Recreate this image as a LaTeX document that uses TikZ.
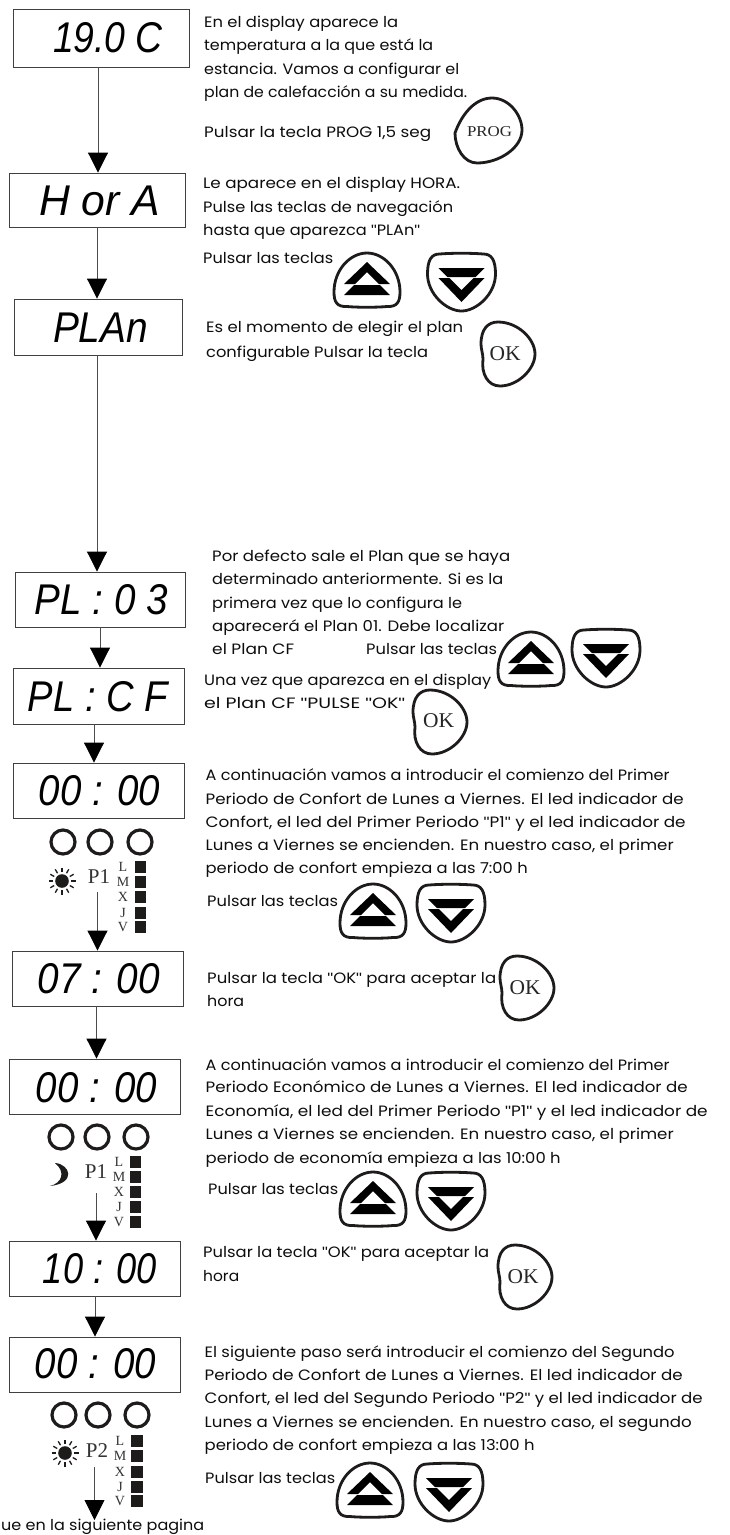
\documentclass[tikz,border=0pt]{standalone}
\usepackage{fontspec}
\usepackage{graphicx}
\usetikzlibrary{arrows.meta}
\setmainfont{Poppins}
\newfontfamily\dispfont{Liberation Sans}
\newfontfamily\btnfont{Liberation Serif}
\newcommand\qq{{\dispfont"}}
\definecolor{ink}{HTML}{1E1B1B}
\tikzset{
  txt/.style={anchor=base west,inner sep=0pt,text=black!95,font=\fontsize{15}{17}\selectfont},
  dispbox/.style={draw=black!75,line width=0.9pt,inner sep=0pt,font=\dispfont\itshape\fontsize{43}{45}\selectfont},
  flow/.style={draw=black!70,line width=0.9pt,-{Triangle[length=20pt,width=20pt,fill=black,color=black]}},
  btn/.style={draw=ink,line width=2.8pt,line join=round},
  glyph/.style={fill=black,draw=none},
  led/.style={circle,draw=ink,line width=3.2pt,minimum size=24pt,inner sep=0pt},
  day/.style={inner sep=0pt,text=black!80,font=\btnfont\fontsize{14}{15}\selectfont},
  sq/.style={fill=ink,draw=none,inner sep=0pt,minimum size=11.5pt},
  per/.style={inner sep=0pt,text=black!80,font=\btnfont\fontsize{21}{23}\selectfont},
  btntext/.style={inner sep=0pt,text=black!85,font=\btnfont\fontsize{21}{23}\selectfont},
  upbtn/.pic={
    \draw[btn] (-20,26.5) .. controls (-30,27) and (-33,22) .. (-33,12) .. controls (-33,-10) and (-17,-27) .. (0,-27) .. controls (17,-27) and (33,-10) .. (33,12) .. controls (33,22) and (30,27) .. (20,26.5) .. controls (10,27.5) and (-10,27.5) .. (-20,26.5) -- cycle;
    \fill[glyph] (0,-18) -- (23,4) -- (12,4) -- (0,-8) -- (-12,4) -- (-23,4) -- cycle;
    \fill[glyph] (-13,5) -- (13,5) -- (23,15) -- (-23,15) -- cycle;
  },
  downbtn/.pic={
    \draw[btn] (-22,-28) .. controls (-30,-28) and (-34,-22) .. (-34,-8) .. controls (-34,12) and (-15,29) .. (0,29) .. controls (15,29) and (34,12) .. (34,-8) .. controls (34,-22) and (30,-28) .. (22,-28) .. controls (10,-29) and (-10,-29) .. (-22,-28) -- cycle;
    \fill[glyph] (-23,-14) -- (23,-14) -- (14,-5) -- (-14,-5) -- cycle;
    \fill[glyph] (-23,-4) -- (-12,-4) -- (0,8) -- (12,-4) -- (23,-4) -- (0,20) -- cycle;
  },
  okbtn/.pic={
    \draw[btn] (-27,-10) .. controls (-27,-25) and (-20,-32) .. (-10,-32) .. controls (10,-32) and (27,-15) .. (27,0) .. controls (27,15) and (10,32) .. (-8,32) .. controls (-20,32) and (-27,20) .. (-25,5) .. controls (-25,0) and (-27,-5) .. (-27,-10) -- cycle;
  },
  progbtn/.pic={
    \draw[btn] (-34,3) .. controls (-28,-14) and (-15,-32) .. (3,-32) .. controls (20,-32) and (33,-15) .. (33,0) .. controls (33,18) and (10,33) .. (-12,33) .. controls (-25,33) and (-34,18) .. (-34,3) -- cycle;
  },
  sunicon/.pic={
    \fill[ink] (0,0) circle (6.8);
    \foreach \a in {0,30,...,330} {\draw[ink,line width=1.3pt] (\a:9) -- (\a:13.5);}
  },
  moonicon/.pic={
    \fill[ink] (-7,-12) .. controls (8,-11) and (15,8) .. (-12,11) .. controls (0,8) and (4,-3) .. (-7,-12) -- cycle;
  }
}
\newcounter{ln}
\newcommand\tx[4]{\stepcounter{ln}\node[txt] (t\arabic{ln}) at (#1,#2) {\resizebox{#3pt}{\height}{#4}};}
% name, x1,y1,x2,y2, text x1, text x2, baseline, text
\newcommand\disp[9]{%
  \pgfmathsetmacro\dCX{(#2+#4)/2}\pgfmathsetmacro\dCY{(#3+#5)/2}%
  \pgfmathsetmacro\dBW{#4-#2}\pgfmathsetmacro\dBH{#5-#3}%
  \pgfmathsetmacro\dTW{#7-#6}\pgfmathsetmacro\dDX{#6+#7-#2-#4}%
  \pgfmathsetmacro\dRB{(#3+#5)/2-#8}%
  \node[dispbox,minimum width=\dBW pt,minimum height=\dBH pt] (#1) at (\dCX,\dCY)
    {\raisebox{\dRB pt}[0pt][0pt]{\makebox[0pt]{\hspace*{\dDX pt}\resizebox{\dTW pt}{\height}{#9}}}};}
% prefix, x of 3 leds, y leds, letters x, squares x, 5 ys given as list
\newcommand\leds[6]{%
  \foreach \i/\xx in {1/#2,2/#3,3/#4} {\node[led] (#1l\i) at (\xx,#5) {};}
  \foreach \i/\yy/\lt in {#6} {\node[day] (#1d\i) at (\dayx,\yy) {\lt};\node[sq] (#1s\i) at (\sqx,\yy) {};}}

\begin{document}
\begin{tikzpicture}[x=1pt,y=-1pt]
\useasboundingbox (0,0) rectangle (730,1535);
\fill[white] (0,0) rectangle (730,1535);

% display boxes
\disp{b1}{13}{9}{189}{67}{53}{163}{52}{19.0 C}
\disp{b2}{9}{173}{185}{227}{39}{160}{215}{H or A}
\disp{b3}{14}{299}{182}{355}{53}{148}{342}{PLAn}
\disp{b4}{15}{572}{185}{627}{35}{168}{614}{PL : 0 3}
\disp{b5}{13}{668}{184}{724}{28}{168}{711}{PL : C F}
\disp{b6}{13}{763}{184}{818}{39}{160}{805}{00 : 00}
\disp{b7}{12}{951}{183}{1006}{38}{160}{993}{07 : 00}
\disp{b8}{9}{1059}{180}{1114}{36}{157}{1102}{00 : 00}
\disp{b9}{9}{1241}{180}{1296}{43}{157}{1283}{10 : 00}
\disp{b10}{9}{1337}{180}{1392}{35}{156}{1378}{00 : 00}

% connectors
\draw[flow] ([xshift=-3pt]b1.south) -- ([xshift=1pt]b2.north);
\draw[flow] (b2.south) -- (b3.north -| b2.south);
\draw[flow] ([xshift=-1pt]b3.south) -- ([xshift=-3pt]b4.north);
\draw[flow] (b4.south) -- (b5.north -| b4.south);
\draw[flow] ([xshift=-4.5pt]b5.south) -- ([xshift=-4.5pt]b6.north);
\draw[flow] ([xshift=-1pt]b7.south) -- ([xshift=2pt]b8.north);
\draw[flow] ([xshift=.5pt]b9.south) -- ([xshift=.5pt]b10.north);
\coordinate (c1) at (97.5,892);
\draw[flow] (c1) -- (c1 |- b7.north);
\coordinate (c2) at (96,1193);
\draw[flow] (c2) -- (c2 |- b9.north);
\coordinate (c3) at (94.5,1467);
\coordinate (c3e) at (94.5,1520);
\draw[flow] (c3) -- (c3e);

% indicators 1
\def\dayx{123}\def\sqx{140.5}
\leds{a}{63}{100}{140}{842}{1/867/L,2/882/M,3/897/X,4/913/J,5/927/V}
\pic at (62,881) {sunicon};
\node[per] (p1a) at (99,877) {P1};
% indicators 2
\def\dayx{119}\def\sqx{135.5}
\leds{e}{61}{97}{136}{1137}{1/1162/L,2/1177/M,3/1192/X,4/1207/J,5/1222/V}
\pic at (62,1175) {moonicon};
\node[per] (p1e) at (96,1172) {P1};
% indicators 3
\def\dayx{120}\def\sqx{137}
\leds{c}{64}{98}{137}{1415}{1/1441/L,2/1456/M,3/1472/X,4/1487/J,5/1501/V}
\pic at (65,1453) {sunicon};
\node[per] (p2c) at (97,1451) {P2};

% buttons
\pic at (489,130) {progbtn};
\node[btntext] (prog) at (489.5,132) {\resizebox{45pt}{\height}{\fontsize{15}{16}\selectfont PROG}};
\pic at (367,280) {upbtn};   \pic at (461.5,282) {downbtn};
\pic at (531,659) {upbtn};   \pic at (606,658) {downbtn};
\pic at (373,911) {upbtn};   \pic at (451,913) {downbtn};
\pic at (373,1199) {upbtn};  \pic at (451,1201) {downbtn};
\pic at (370,1490) {upbtn};  \pic at (449,1492) {downbtn};
\pic at (508,354) {okbtn};
\node[btntext] (ok1) at (505,354) {\resizebox{31pt}{\height}{OK}};
\pic at (440,722) {okbtn};
\node[btntext] (ok2) at (438.5,721) {\resizebox{31pt}{\height}{OK}};
\pic at (527,988) {okbtn};
\node[btntext] (ok3) at (525,988) {\resizebox{31pt}{\height}{OK}};
\pic at (525,1277) {okbtn};
\node[btntext] (ok4) at (523,1277) {\resizebox{31pt}{\height}{OK}};

% texts
\tx{204}{27}{194}{En el display aparece la}
\tx{204}{50}{229}{temperatura a la que está la}
\tx{204}{74}{255}{estancia. Vamos a configurar el}
\tx{204}{97}{263}{plan de calefacción a su medida.}
\tx{204}{137}{227}{Pulsar la tecla PROG 1,5 seg}
\tx{203}{188}{257}{Le aparece en el display HORA.}
\tx{203}{212}{250}{Pulse las teclas de navegación}
\tx{203}{235}{217}{hasta que aparezca \qq PLAn\qq}
\tx{203}{263}{130}{Pulsar las teclas}
\tx{206}{332}{257}{Es el momento de elegir el plan}
\tx{206}{357}{222}{configurable Pulsar la tecla}
\tx{212}{561}{298}{Por defecto sale el Plan que se haya}
\tx{212}{584}{291}{determinado anteriormente. Si es la}
\tx{212}{608}{250}{primera vez que lo configura le}
\tx{212}{631}{292}{aparecerá el Plan 01. Debe localizar}
\tx{212}{654}{82}{el Plan CF}
\tx{366}{654}{131}{Pulsar las teclas}
\tx{204}{685}{287}{Una vez que aparezca en el display}
\tx{204}{708}{201}{el Plan CF \qq PULSE \qq OK\qq}
\tx{205.5}{780}{464}{A continuación vamos a introducir el comienzo del Primer}
\tx{205.5}{804}{478}{Periodo de Confort de Lunes a Viernes. El led indicador de}
\tx{205.5}{827}{480}{Confort, el led del Primer Periodo \qq P1\qq{} y el led indicador de}
\tx{205.5}{850}{468}{Lunes a Viernes se encienden. En nuestro caso, el primer}
\tx{205.5}{873}{322}{periodo de confort empieza a las 7:00 h}
\tx{207}{906}{131}{Pulsar las teclas}
\tx{207}{983}{289}{Pulsar la tecla \qq OK\qq{} para aceptar la}
\tx{207}{1006}{37}{hora}
\tx{205.5}{1070}{464}{A continuación vamos a introducir el comienzo del Primer}
\tx{205.5}{1092}{482}{Periodo Económico de Lunes a Viernes. El led indicador de}
\tx{205.5}{1116}{502}{Economía, el led del Primer Periodo \qq P1\qq{} y el led indicador de}
\tx{205.5}{1139}{468}{Lunes a Viernes se encienden. En nuestro caso, el primer}
\tx{205.5}{1163}{355}{periodo de economía empieza a las 10:00 h}
\tx{208}{1194}{130}{Pulsar las teclas}
\tx{203}{1257}{286}{Pulsar la tecla \qq OK\qq{} para aceptar la}
\tx{203}{1281}{36}{hora}
\tx{204.5}{1357}{470}{El siguiente paso será introducir el comienzo del Segundo}
\tx{204.5}{1380}{478}{Periodo de Confort de Lunes a Viernes. El led indicador de}
\tx{204.5}{1403}{498}{Confort, el led del Segundo Periodo \qq P2\qq{} y el led indicador de}
\tx{204.5}{1427}{487}{Lunes a Viernes se encienden. En nuestro caso, el segundo}
\tx{204.5}{1450}{330}{periodo de confort empieza a las 13:00 h}
\tx{205}{1483}{130}{Pulsar las teclas}
\tx{1}{1530}{203}{ue en la siguiente pagina}
\end{tikzpicture}
\end{document}
